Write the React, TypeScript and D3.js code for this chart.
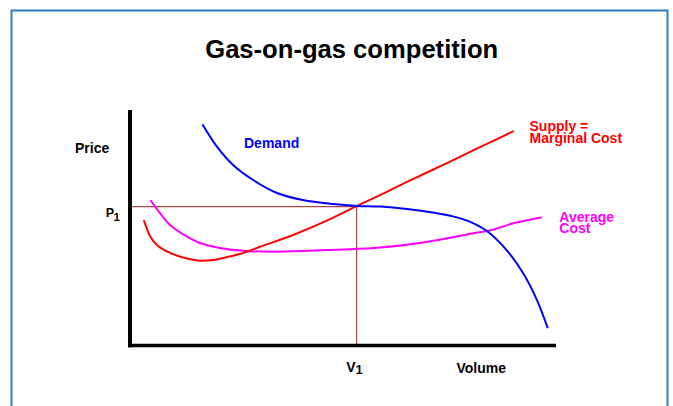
import React from "react";
import * as d3 from "d3";

// Stylised economics chart: values in abstract units (volume 0–100, price 0–100)
const demandVolume = [17.1, 20.4, 24.2, 28.9, 34.5, 40.6, 47.7, 53.3, 58.7, 65.0, 71.4, 75.4, 79.3, 83.6, 88.4, 92.3, 95.5, 98.0];
const demandPrice = [93.6, 84.4, 76.6, 70.2, 64.7, 61.7, 60.0, 59.2, 58.9, 57.9, 56.3, 54.9, 52.8, 48.7, 40.4, 30.5, 19.2, 7.5];

const supplyVolume = [3.3, 4.7, 6.3, 9.4, 12.9, 16.4, 19.5, 23.0, 25.8, 30.5, 38.3, 46.2, 53.3, 58.7, 65.0, 73.0, 80.9, 89.9];
const supplyPrice = [52.8, 46.4, 42.6, 39.2, 37.0, 35.9, 36.2, 37.5, 38.7, 41.8, 46.8, 52.9, 59.2, 63.8, 69.4, 76.2, 83.1, 90.9];

const avgCostVolume = [4.9, 7.0, 9.4, 13.4, 16.4, 21.1, 26.5, 34.5, 46.2, 57.2, 65.0, 73.0, 80.9, 84.4, 90.4, 96.5];
const avgCostPrice = [61.4, 56.2, 51.1, 46.1, 43.4, 41.3, 40.1, 39.7, 40.4, 41.3, 42.7, 44.9, 47.7, 48.7, 52.0, 54.3];

const equilibriumVolume = 53.2;
const equilibriumPrice = 58.85;

const title = "Gas-on-gas competition";
const yAxisLabel = "Price";
const xAxisLabel = "Volume";
const demandLabel = ["Demand"];
const supplyLabel = ["Supply =", "Marginal Cost"];
const avgCostLabel = ["Average", "Cost"];

const W = 673;
const H = 406;
const FONT = "'Liberation Sans', Arial, Helvetica, sans-serif";

export default function App() {
  const x = d3.scaleLinear().domain([0, 100]).range([130, 556]);
  const y = d3.scaleLinear().domain([0, 100]).range([345, 110]);

  const line = d3
    .line<[number, number]>()
    .x((d) => x(d[0]))
    .y((d) => y(d[1]))
    .curve(d3.curveCatmullRom.alpha(0.5));

  const zip = (a: number[], b: number[]) => a.map((v, i) => [v, b[i]] as [number, number]);

  const demandPath = line(zip(demandVolume, demandPrice)) || "";
  const supplyPath = line(zip(supplyVolume, supplyPrice)) || "";
  const avgPath = line(zip(avgCostVolume, avgCostPrice)) || "";

  const ex = x(equilibriumVolume);
  const ey = y(equilibriumPrice);

  React.useEffect(() => {
    document.body.style.margin = "0";
    document.body.style.overflow = "hidden";
  }, []);

  return (
    <svg
      width={W}
      height={H}
      viewBox={`0 0 ${W} ${H}`}
      style={{ position: "absolute", left: 0, top: 0, display: "block", background: "#fff" }}
      fontFamily={FONT}
      fontWeight="bold"
    >
      <rect x={0} y={0} width={W} height={H} fill="#ffffff" />
      <rect x={11.5} y={10.5} width={656} height={430} fill="none" stroke="#2a7fc2" strokeWidth={2} />

      <text x={351.7} y={58.3} textAnchor="middle" fontSize={25.6} fill="#000">
        {title}
      </text>

      {/* reference lines */}
      <line x1={x(0)} x2={ex} y1={ey} y2={ey} stroke="#8f1f1f" strokeWidth={1} />
      <line x1={ex} x2={ex} y1={y(0)} y2={ey} stroke="#a04a4a" strokeWidth={1.2} />

      {/* curves */}
      <path d={avgPath} fill="none" stroke="#ff00ff" strokeWidth={2} strokeLinejoin="round" strokeLinecap="round" />
      <path d={supplyPath} fill="none" stroke="#ff0000" strokeWidth={2} strokeLinejoin="round" strokeLinecap="round" />
      <path d={demandPath} fill="none" stroke="#0000ff" strokeWidth={2} strokeLinejoin="round" strokeLinecap="round" />

      {/* axes */}
      <line x1={x(0)} x2={x(0)} y1={y(100)} y2={y(0) + 2.3} stroke="#000" strokeWidth={4} />
      <line x1={x(0) - 2} x2={x(100)} y1={y(0) + 0.5} y2={y(0) + 0.5} stroke="#000" strokeWidth={3.6} />

      {/* axis labels */}
      <text x={75} y={153.3} fontSize={14} fill="#000">
        {yAxisLabel}
      </text>
      <text x={456.5} y={373.3} fontSize={14} fill="#000">
        {xAxisLabel}
      </text>

      <text x={105.8} y={216.6} fontSize={12.5} fill="#000">
        P
      </text>
      <text x={113.4} y={221} fontSize={11.5} fill="#000">
        1
      </text>

      <text x={346.3} y={371.7} fontSize={14} fill="#000">
        V
      </text>
      <text x={355.6} y={374.3} fontSize={13} fill="#000">
        1
      </text>

      {/* curve labels */}
      {demandLabel.map((t, i) => (
        <text key={t} x={244} y={148.3 + i * 12} fontSize={14} fill="#0000ff">
          {t}
        </text>
      ))}
      {supplyLabel.map((t, i) => (
        <text key={t} x={529.5} y={131 + i * 12.4} fontSize={14} fill="#ff0000">
          {t}
        </text>
      ))}
      {avgCostLabel.map((t, i) => (
        <text key={t} x={559.3} y={221.7 + i * 11.7} fontSize={14} fill="#ff00ff">
          {t}
        </text>
      ))}
    </svg>
  );
}
